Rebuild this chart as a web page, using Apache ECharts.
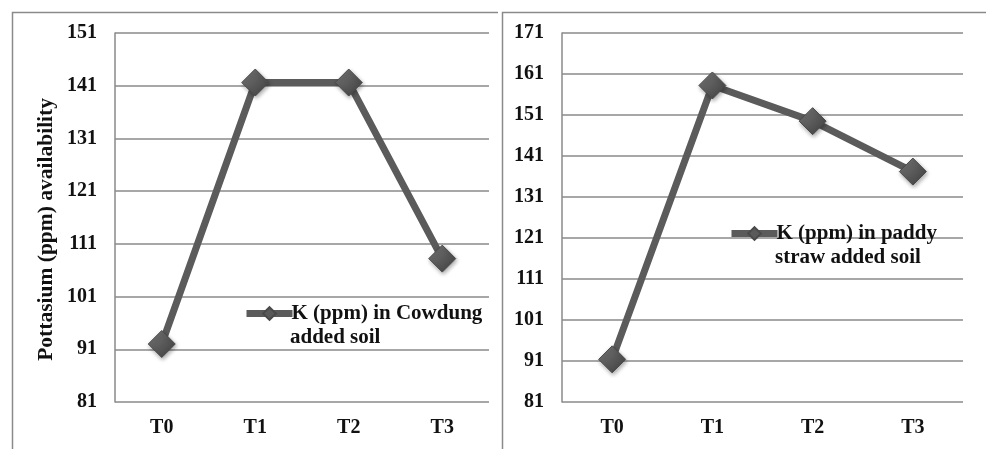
<!DOCTYPE html>
<html><head><meta charset="utf-8">
<script src="https://cdn.jsdelivr.net/npm/echarts@6/dist/echarts.min.js"></script>
<style>html,body{margin:0;padding:0;background:#fff}#c{width:986px;height:449px}</style>
</head><body><div id="c"></div>
<script>
const categories = ['T0', 'T1', 'T2', 'T3'];
const cowdungK = [92, 141.6, 141.6, 108.2];
const paddyK = [91.4, 158.2, 149.5, 137.2];
const seriesNames = ['K (ppm) in Cowdung\nadded soil', 'K (ppm) in paddy\nstraw added soil'];
const yTitle = 'Pottasium (ppm) availability';

const chart = echarts.init(document.getElementById('c'));
const font = 'Liberation Serif';
const fs = 20;
const lfs = 21;
const lineColor = '#5b5b5b';
const markerColor = new echarts.graphic.LinearGradient(0, 0, 1, 1, [
  {offset: 0, color: '#7c7c7c'}, {offset: 0.5, color: '#5a5a5a'}, {offset: 1, color: '#3e3e3e'}]);
function yAxis(idx, min, max) {
  return {type: 'value', gridIndex: idx, min: min, max: max, interval: 10,
    axisLine: {show: true, lineStyle: {color: '#8a8a8a', width: 1.5}},
    axisTick: {show: false},
    splitLine: {lineStyle: {color: '#8a8a8a', width: 1.5}},
    axisLabel: {color: '#111', fontFamily: font, fontWeight: 'bold', fontSize: fs, margin: 18}};
}
function xAxis(idx) {
  return {type: 'category', gridIndex: idx, data: categories, boundaryGap: true,
    axisLine: {show: false}, axisTick: {show: false},
    axisLabel: {color: '#111', fontFamily: font, fontWeight: 'bold', fontSize: fs, margin: 16}};
}
function series(idx, name, data) {
  return {type: 'line', name: name, xAxisIndex: idx, yAxisIndex: idx, data: data,
    symbol: 'diamond', symbolSize: 27,
    lineStyle: {color: lineColor, width: 7},
    itemStyle: {color: markerColor, borderColor: '#4a4a4a', borderWidth: 1,
      shadowColor: 'rgba(0,0,0,0.35)', shadowBlur: 4, shadowOffsetX: 1, shadowOffsetY: 2},
    emphasis: {disabled: true}, animation: false};
}
function legend(name, left, top) {
  return {data: [name], left: left, top: top, itemWidth: 46, itemHeight: 16, itemGap: 0, padding: 0,
    formatter: n => n.split('\n')[0],
    lineStyle: {width: 7, color: lineColor},
    itemStyle: {color: '#5a5a5a'},
    textStyle: {fontFamily: font, fontWeight: 'bold', fontSize: lfs, color: '#111', padding: [0, 0, 0, -6]}};
}
function legendLine2(name, x, y) {
  return {type: 'text', left: x, top: y,
    style: {text: name.split('\n')[1], fontFamily: font, fontWeight: 'bold', fontSize: lfs, fill: '#111'}};
}
chart.setOption({
  animation: false,
  grid: [{left: 115, top: 33, width: 374, height: 369}, {left: 562, top: 33, width: 401, height: 369}],
  xAxis: [xAxis(0), xAxis(1)],
  yAxis: [yAxis(0, 81, 151), yAxis(1, 81, 171)],
  series: [series(0, seriesNames[0], cowdungK), series(1, seriesNames[1], paddyK)],
  legend: [legend(seriesNames[0], 243, 303), legend(seriesNames[1], 728, 223)],
  graphic: [
    {type: 'polyline', shape: {points: [[12.5, 449], [12.5, 12.5], [498, 12.5]]}, style: {stroke: '#8a8a8a', lineWidth: 1.5, fill: null}},
    {type: 'polyline', shape: {points: [[502.5, 449], [502.5, 12.5], [986, 12.5]]}, style: {stroke: '#8a8a8a', lineWidth: 1.5, fill: null}},
    {type: 'text', left: 35, top: 98, rotation: Math.PI / 2,
     style: {text: yTitle, fontFamily: font, fontWeight: 'bold', fontSize: 21.5, fill: '#111'}},
    legendLine2(seriesNames[0], 290, 327),
    legendLine2(seriesNames[1], 775, 247)
  ]
});
</script></body></html>
